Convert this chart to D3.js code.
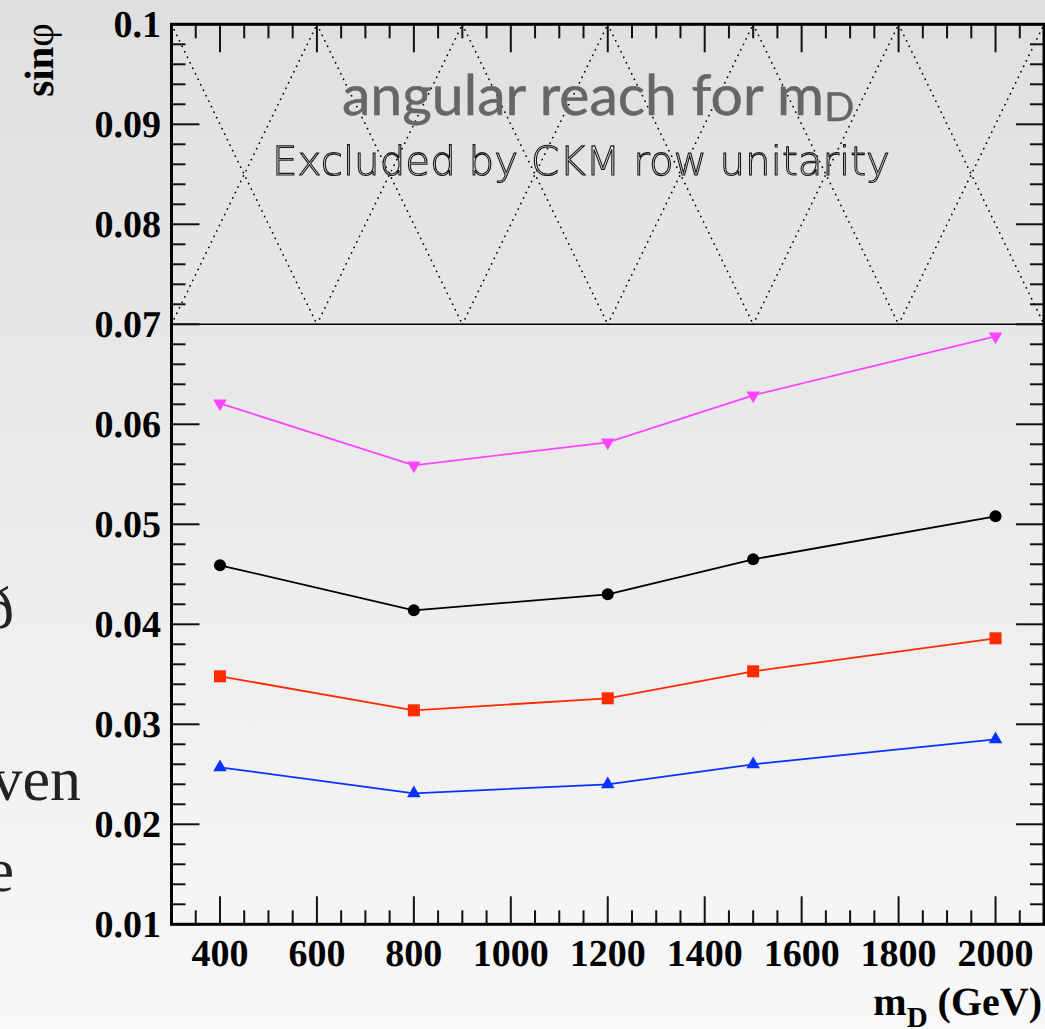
<!DOCTYPE html>
<html><head><meta charset="utf-8">
<script src="https://cdn.jsdelivr.net/npm/d3@7"></script>
<style>
html,body{margin:0;padding:0;}
body{width:1045px;height:1029px;overflow:hidden;}
text{text-rendering:geometricPrecision;}
</style></head>
<body>
<script>
// ---- data ----
const massPoints = [400, 800, 1200, 1500, 2000];
const seriesMagenta = [0.0621, 0.0559, 0.0582, 0.0629, 0.0688];
const seriesBlack   = [0.0459, 0.0414, 0.0430, 0.0465, 0.0508];
const seriesRed     = [0.0348, 0.0314, 0.0326, 0.0353, 0.0386];
const seriesBlue    = [0.0257, 0.0231, 0.0240, 0.0260, 0.0285];
const xTickLabels = [400, 600, 800, 1000, 1200, 1400, 1600, 1800, 2000];
const yTickLabels = [0.01, 0.02, 0.03, 0.04, 0.05, 0.06, 0.07, 0.08, 0.09, 0.1];
const hatchEdges = [300, 600, 900, 1200, 1500, 1800, 2100];
const excludedFrom = 0.07;
const titleText = "angular reach for m";
const titleSub = "D";
const subtitleText = "Excluded by CKM row unitarity";

(function(){
const W = 1045, H = 1029;
const svg = d3.select("body").append("svg").attr("width", W).attr("height", H);

const defs = svg.append("defs");
const grad = defs.append("linearGradient").attr("id","bg").attr("x1",0).attr("y1",0).attr("x2",0).attr("y2",1);
grad.append("stop").attr("offset","0%").attr("stop-color","#dfdfdf");
grad.append("stop").attr("offset","100%").attr("stop-color","#f8f8f8");
defs.append("filter").attr("id","gray").append("feOffset").attr("dx",0).attr("dy",0);
svg.append("rect").attr("width",W).attr("height",H).attr("fill","url(#bg)");

// background partial slide text on the left (cut off by the page edge, as in the original)
const serif = "'Liberation Serif','Times New Roman',serif";
svg.append("text").attr("x",14).attr("y",628).attr("text-anchor","end")
  .style("font-family",serif).style("font-size","60px").attr("fill","#222").text("ð");
svg.append("text").attr("x",81).attr("y",800).attr("text-anchor","end")
  .style("font-family",serif).style("font-size","62px").attr("fill","#222").text("ven");
svg.append("text").attr("x",14).attr("y",891).attr("text-anchor","end")
  .style("font-family",serif).style("font-size","62px").attr("fill","#222").text("e");

const pL = 171.5, pR = 1044, pT = 24.3, pB = 924.3;
const x = d3.scaleLinear().domain([300, 2100]).range([pL, pR]);
const y = d3.scaleLinear().domain([0.01, 0.1]).range([pB, pT]);

// Excluded hatched region
const hatch = svg.append("g");
for (let i = 0; i < hatchEdges.length - 1; i++) {
  const a = hatchEdges[i], b = hatchEdges[i+1];
  hatch.append("line").attr("x1",x(a)).attr("y1",y(0.1)).attr("x2",x(b)).attr("y2",y(excludedFrom));
  hatch.append("line").attr("x1",x(a)).attr("y1",y(excludedFrom)).attr("x2",x(b)).attr("y2",y(0.1));
}
hatch.selectAll("line").attr("stroke","#000").attr("stroke-width",1.7)
  .attr("stroke-dasharray","0.1,6").attr("stroke-linecap","round");
svg.append("line").attr("x1",pL).attr("x2",pR).attr("y1",y(excludedFrom)).attr("y2",y(excludedFrom))
  .attr("stroke","#000").attr("stroke-width",1.6);

// Titles
const t1 = svg.append("text").attr("x",342).attr("y",115).attr("filter","url(#gray)")
  .style("font-family","Lato, 'Open Sans', sans-serif").style("font-size","56px")
  .attr("fill","#666").attr("stroke","#666").attr("stroke-width",0.5);
t1.append("tspan").attr("textLength",482).attr("lengthAdjust","spacingAndGlyphs").text(titleText);
t1.append("tspan").attr("dy",6).style("font-size","40px").attr("stroke-width",0.3).text(titleSub);
svg.append("text").attr("x",272).attr("y",175).attr("filter","url(#gray)")
  .style("font-family","'DejaVu Sans', sans-serif").style("font-size","40px").style("font-weight","200")
  .attr("fill","#e8e8e8").attr("stroke","#161616").attr("stroke-width",1.1)
  .attr("textLength",618).attr("lengthAdjust","spacingAndGlyphs").text(subtitleText);

// Series
const series = [
  {vals: seriesMagenta, color:"#ff44ff", sym: "down"},
  {vals: seriesBlack, color:"#000000", sym: "circle"},
  {vals: seriesRed, color:"#ff2a00", sym: "square"},
  {vals: seriesBlue, color:"#0a32ff", sym: "up"}
];
const line = d3.line().x(d=>x(d[0])).y(d=>y(d[1]));
series.forEach(s => {
  const pts = massPoints.map((m,i)=>[m, s.vals[i]]);
  svg.append("path").attr("d", line(pts)).attr("fill","none").attr("stroke",s.color).attr("stroke-width",1.8);
  const g = svg.append("g");
  pts.forEach(p => {
    const cx = x(p[0]), cy = y(p[1]);
    if (s.sym === "circle") {
      g.append("circle").attr("cx",cx).attr("cy",cy).attr("r",6).attr("fill",s.color);
    } else if (s.sym === "square") {
      g.append("rect").attr("x",cx-6).attr("y",cy-6).attr("width",12).attr("height",12).attr("fill",s.color);
    } else {
      const sym = d3.symbol().type(d3.symbolTriangle).size(80);
      g.append("path").attr("d", sym()).attr("fill", s.color)
        .attr("transform", `translate(${cx},${cy})` + (s.sym==="down" ? " rotate(180)" : ""));
    }
  });
});

// Ticks
const tk = svg.append("g").attr("stroke","#111").attr("stroke-width",2);
const xMinor = d3.range(300, 2101, 50);
xMinor.forEach(v => {
  const major = v % 200 === 0 && v >= 400 && v <= 2000;
  const L = major ? 28 : 14;
  tk.append("line").attr("x1",x(v)).attr("x2",x(v)).attr("y1",pB).attr("y2",pB-L);
  tk.append("line").attr("x1",x(v)).attr("x2",x(v)).attr("y1",pT).attr("y2",pT+L);
});
const yMinor = d3.range(0, 46).map(i => 0.01 + i*0.002);
yMinor.forEach((v,i) => {
  const major = i % 5 === 0;
  const L = major ? 28 : 14;
  tk.append("line").attr("y1",y(v)).attr("y2",y(v)).attr("x1",pL).attr("x2",pL+L);
  tk.append("line").attr("y1",y(v)).attr("y2",y(v)).attr("x1",pR).attr("x2",pR-L);
});

// Frame
svg.append("rect").attr("x",pL).attr("y",pT).attr("width",pR-pL).attr("height",pB-pT)
  .attr("fill","none").attr("stroke","#000").attr("stroke-width",3);

// Tick labels
svg.append("g").selectAll("text").data(xTickLabels).join("text")
  .attr("x", d=>x(d)).attr("y", 966).attr("text-anchor","middle")
  .style("font-family",serif).style("font-size","38px").style("font-weight","bold").text(d=>d);
svg.append("g").selectAll("text").data(yTickLabels).join("text")
  .attr("x", 161).attr("y", d=>y(d)+13).attr("text-anchor","end")
  .style("font-family",serif).style("font-size","38px").style("font-weight","bold")
  .text(d => d === 0.1 ? "0.1" : d3.format(".2f")(d));

// Axis titles
const yt = svg.append("text").attr("transform","translate(53,23) rotate(-90)").attr("text-anchor","end")
  .style("font-family",serif).style("font-size","41px").style("font-weight","bold");
yt.append("tspan").text("sin");
yt.append("tspan").style("font-weight","normal").text("φ");
const xt = svg.append("text").attr("x",1042).attr("y",1015).attr("text-anchor","end")
  .style("font-family",serif).style("font-size","40px").style("font-weight","bold");
xt.append("tspan").text("m");
xt.append("tspan").attr("dy",12).style("font-size","29px").text("D");
xt.append("tspan").attr("dy",-12).text(" (GeV)");
})();
</script>
</body></html>
